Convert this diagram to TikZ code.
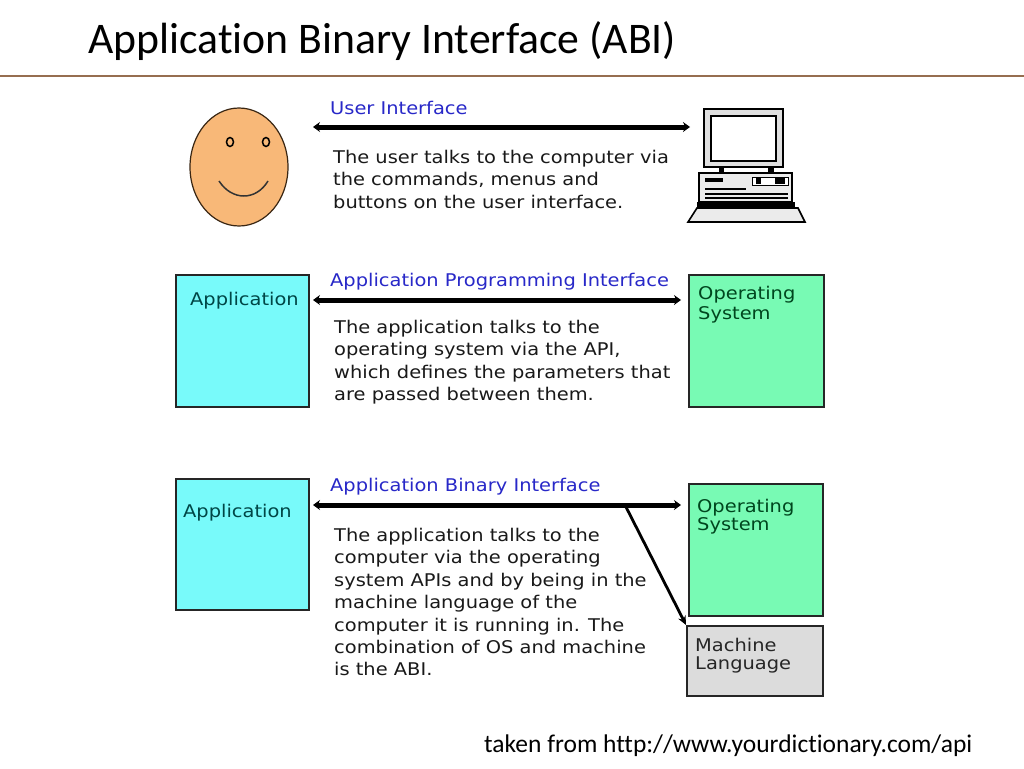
\documentclass[tikz,border=0pt]{standalone}
\usepackage{fontspec}
\setmainfont{Carlito}[Ligatures=NoCommon]
\newfontfamily\bodyfont{DejaVu Sans}[FakeStretch=1.11]
\usetikzlibrary{arrows.meta,shapes.geometric}
\definecolor{cyanbox}{RGB}{120,250,250}
\definecolor{greenbox}{RGB}{120,250,180}
\definecolor{greybox}{RGB}{220,220,220}
\definecolor{facecol}{RGB}{248,184,120}
\definecolor{ifblue}{RGB}{40,40,200}
\definecolor{apptext}{RGB}{0,70,70}
\definecolor{ostext}{RGB}{0,70,30}
\definecolor{rulecol}{RGB}{150,110,80}
\tikzset{
  body/.style={font=\bodyfont\fontsize{17.5}{22.4}\selectfont, align=left, inner sep=0pt, anchor=north west, text=black!90},
  iflabel/.style={font=\bodyfont\fontsize{17.5}{20}\selectfont, inner sep=0pt, anchor=west, text=ifblue},
  boxlabel/.style={font=\bodyfont\fontsize{17.5}{20}\selectfont, align=left, inner sep=0pt, anchor=north west},
  box/.style={draw=black!85, line width=1.6pt, inner sep=0pt},
  iface/.style={line width=5pt, {Stealth[length=7pt,width=10pt]}-{Stealth[length=7pt,width=10pt]}},
}
\begin{document}
\begin{tikzpicture}[x=1pt,y=-1pt]
\useasboundingbox[fill=white] (0,0) rectangle (1024,768);
% title
\node[anchor=base west, inner sep=0pt, font=\fontsize{43.7}{50}\selectfont] (title) at (88,53) {Application Binary Interface (ABI)};
\draw[rulecol, line width=2pt] (0,76) -- (1024,76);

% ---- row 1: user interface
\node[draw=black!70!brown, line width=1.2pt, fill=facecol, ellipse, minimum width=98pt, minimum height=118pt, inner sep=0pt] (face) at (239,167) {};
\node[draw=black, line width=1.5pt, ellipse, minimum width=7pt, minimum height=9pt, inner sep=0pt] (eyeL) at (230,142) {};
\node[draw=black, line width=1.5pt, ellipse, minimum width=7pt, minimum height=9pt, inner sep=0pt] (eyeR) at (266,142) {};
\draw[black!80, line width=1.5pt] (219,181) .. controls (232,201) and (256,201) .. (268,181);

% computer
\coordinate (comp) at (746,165);
\draw[black, line width=2pt, fill=black!12] (704,109) rectangle (783,167);
\draw[black, line width=1.6pt, fill=white] (711,116) rectangle (776,161);
\draw[black, line width=1pt, fill=white] (719,167) rectangle (773,173);
\fill[black] (719,166) rectangle (724,173);
\fill[black] (768,166) rectangle (773,173);
\draw[black, line width=1.6pt, fill=black!8] (699,173) rectangle (792,202);
\fill[black] (705,178) rectangle (723,182);
\draw[black, line width=1pt, fill=white] (752,177) rectangle (788,185);
\fill[black] (756,178) rectangle (761,184);
\fill[black] (775,178) rectangle (785,184);
\draw[black, line width=1.2pt] (705,189) -- (746,189);
\draw[black, line width=1.2pt] (705,194) -- (788,194);
\draw[black, line width=1.2pt] (705,198) -- (788,198);
\fill[black] (697,202) rectangle (795,208);
\draw[black, line width=1.6pt, fill=black!8] (697,208) -- (798,208) -- (805,222) -- (688,222) -- cycle;

\node[iflabel] (uil) at (330,108) {User Interface};
\coordinate (ui1) at (313,127);
\coordinate (ui2) at (690,127);
\draw[iface] (ui1) -- (ui2);
\node[body] (uit) at (333,150) {The user talks to the computer via\\the commands, menus and\\buttons on the user interface.};

% ---- row 2: API
\node[box, fill=cyanbox, minimum width=133pt, minimum height=132pt, anchor=north west] (app2) at (175,274) {};
\node[boxlabel, text=apptext] (app2l) at (190,292) {Application};
\node[box, fill=greenbox, minimum width=135pt, minimum height=132pt, anchor=north west] (os2) at (688,274) {};
\node[boxlabel, text=ostext] (os2l) at (698,286) {Operating\\System};
\node[iflabel] (apil) at (330,282) {Application Programming Interface};
\coordinate (api1) at (313,300);
\coordinate (api2) at (681,300);
\draw[iface] (api1) -- (api2);
\node[body] (apit) at (334,320) {The application talks to the\\operating system via the API,\\which defines the parameters that\\are passed between them.};

% ---- row 3: ABI
\node[box, fill=cyanbox, minimum width=133pt, minimum height=131pt, anchor=north west] (app3) at (175,478) {};
\node[boxlabel, text=apptext] (app3l) at (183,504) {Application};
\node[box, fill=greenbox, minimum width=134pt, minimum height=132pt, anchor=north west] (os3) at (688,483) {};
\node[boxlabel, text=ostext, font=\bodyfont\fontsize{17.5}{18}\selectfont] (os3l) at (697,499) {Operating\\System};
\node[box, fill=greybox, minimum width=136pt, minimum height=70pt, anchor=north west] (ml) at (686,625) {};
\node[boxlabel, text=black!85, font=\bodyfont\fontsize{17.5}{18}\selectfont] (mll) at (695,638) {Machine\\Language};
\node[iflabel] (abil) at (330,487) {Application Binary Interface};
\coordinate (abi1) at (313,505);
\coordinate (abi2) at (681,505);
\coordinate (abij) at (625,505);
\draw[iface] (abi1) -- (abi2);
\draw[line width=2.8pt, -{Stealth[length=9pt,width=8pt]}] (abij) -- (ml.north west);
\node[body] (abit) at (334,528) {The application talks to the\\computer via the operating\\system APIs and by being in the\\machine language of the\\computer it is running in.  The\\combination of OS and machine\\is the ABI.};

% footer
\node[anchor=base west, inner sep=0pt, font=\fontsize{25.5}{30}\selectfont] (foot) at (484,752) {taken from http://www.yourdictionary.com/api};
\end{tikzpicture}
\end{document}
